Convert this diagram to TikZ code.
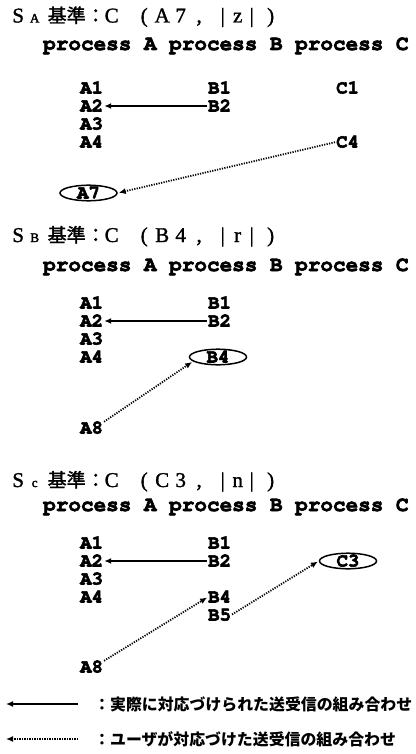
\documentclass[tikz,border=0pt]{standalone}
\usepackage[T1]{fontenc}
\usepackage{fontspec}
\setmainfont{Liberation Serif}
\newfontfamily\cjk{Noto Sans CJK JP}
\usetikzlibrary{arrows.meta,shapes.geometric}
% bold Courier for the process tables
\newcommand\cour{\fontencoding{T1}\fontfamily{pcr}\fontseries{b}\selectfont}
% heavier glyphs: fill and stroke the outlines
\newcommand\heavy[2]{\special{pdf:literal direct 2 Tr #1 w}#2\special{pdf:literal direct 0 Tr}}
% place a piece of a heading centred at a given x offset
\newcommand\tp[2]{\makebox[0pt][l]{\kern#1pt\makebox[0pt][c]{#2}}}
% heading  S_x 基準：C（e, |m|）
\newcommand\heading[4]{%
  \fontsize{21}{21}\selectfont
  \tp{17.5}{S}\tp{34}{\fontsize{13}{13}\selectfont #1}%
  \tp{66}{\cjk\fontsize{19}{19}\selectfont 基準}%
  \tp{95}{\cjk\fontsize{19}{19}\selectfont ：}%
  \tp{111}{C}\tp{143.5}{(}\tp{161.5}{#2}\tp{180}{#3}\tp{198.5}{,}%
  \tp{222}{|}\tp{237}{#4}\tp{251}{|}\tp{270}{)}}
\tikzset{
  ttl/.style={anchor=base west,inner sep=0pt},
  proc/.style={anchor=base west,inner sep=0pt,font=\cour\fontsize{21}{21}\selectfont},
  lbl/.style={anchor=west,inner sep=0pt,text height=11pt,text depth=0pt,
    font=\cour\fontsize{19}{19}\selectfont},
  ring/.style={draw,ellipse,line width=1.5pt,inner sep=0pt,minimum width=57pt,
    minimum height=15pt,text height=11pt,text depth=0pt,
    font=\cour\fontsize{19}{19}\selectfont},
  real/.style={line width=1.5pt,-{Latex[length=7pt,width=6pt]},shorten >=1pt,shorten <=1pt},
  user/.style={line width=1.8pt,dash pattern=on 1.2pt off 1.3pt,
    -{Latex[length=7pt,width=6pt]},shorten >=1pt,shorten <=1pt},
  legtxt/.style={anchor=west,inner sep=0pt,font=\cjk\bfseries\fontsize{15.9}{15.9}\selectfont}
}
\begin{document}
\begin{tikzpicture}[x=1pt,y=-1pt]
\useasboundingbox (0,0) rectangle (415,754);

% ---- S_A ----
\node[ttl] (hA) at (0,22.5) {\heavy{0.3}{\heading{A}{A}{7}{z}}};
\node[proc] (pA) at (43,50) {\heavy{0.6}{process A process B process C}};
\node[lbl] (aA1) at (80,88) {\heavy{0.6}{A1}};
\node[lbl] (aA2) at (80,106) {\heavy{0.6}{A2}};
\node[lbl] (aA3) at (80,124) {\heavy{0.6}{A3}};
\node[lbl] (aA4) at (80,142) {\heavy{0.6}{A4}};
\node[lbl] (bA1) at (208,88) {\heavy{0.6}{B1}};
\node[lbl] (bA2) at (208,106) {\heavy{0.6}{B2}};
\node[lbl] (cA1) at (336,88) {\heavy{0.6}{C1}};
\node[lbl] (cA4) at (336,142) {\heavy{0.6}{C4}};
\node[ring] (a7) at (88.5,193) {\heavy{0.6}{A7}};
\draw[real] (bA2.west) -- (aA2.east);
\draw[user] (cA4.west) -- (a7.east);

% ---- S_B ----
\node[ttl] (hB) at (0,242) {\heavy{0.3}{\heading{B}{B}{4}{r}}};
\node[proc] (pB) at (43,271) {\heavy{0.6}{process A process B process C}};
\node[lbl] (aB1) at (80,303) {\heavy{0.6}{A1}};
\node[lbl] (aB2) at (80,321) {\heavy{0.6}{A2}};
\node[lbl] (aB3) at (80,339) {\heavy{0.6}{A3}};
\node[lbl] (aB4) at (80,357) {\heavy{0.6}{A4}};
\node[lbl] (bB1) at (208,303) {\heavy{0.6}{B1}};
\node[lbl] (bB2) at (208,321) {\heavy{0.6}{B2}};
\node[ring] (b4) at (218,357) {\heavy{0.6}{B4}};
\node[lbl] (aB8) at (80,428) {\heavy{0.6}{A8}};
\draw[real] (bB2.west) -- (aB2.east);
\draw[user] (aB8.north east) -- (b4.190);

% ---- S_C ----
\node[ttl] (hC) at (0,487) {\heavy{0.3}{\heading{c}{C}{3}{n}}};
\node[proc] (pC) at (43,511) {\heavy{0.6}{process A process B process C}};
\node[lbl] (aC1) at (80,543) {\heavy{0.6}{A1}};
\node[lbl] (aC2) at (80,561) {\heavy{0.6}{A2}};
\node[lbl] (aC3) at (80,579) {\heavy{0.6}{A3}};
\node[lbl] (aC4) at (80,597) {\heavy{0.6}{A4}};
\node[lbl] (bC1) at (208,543) {\heavy{0.6}{B1}};
\node[lbl] (bC2) at (208,561) {\heavy{0.6}{B2}};
\node[lbl] (bC4) at (208,597) {\heavy{0.6}{B4}};
\node[lbl] (bC5) at (208,615) {\heavy{0.6}{B5}};
\node[ring] (c3) at (348,561) {\heavy{0.6}{C3}};
\node[lbl] (aC8) at (80,667) {\heavy{0.6}{A8}};
\draw[real] (bC2.west) -- (aC2.east);
\draw[user] (aC8.north east) -- (bC4.west);
\draw[user] (bC5.east) -- (c3.west);

% ---- legend ----
\coordinate (l1s) at (78,704);
\coordinate (l1e) at (5,704);
\coordinate (l2s) at (78,739);
\coordinate (l2e) at (5,739);
\draw[real,shorten <=0pt] (l1s) -- (l1e);
\draw[user,shorten <=0pt] (l2s) -- (l2e);
\node[legtxt] (t1) at (94,704) {：実際に対応づけられた送受信の組み合わせ};
\node[legtxt] (t2) at (94,739) {：ユーザが対応づけた送受信の組み合わせ};
\end{tikzpicture}
\end{document}
